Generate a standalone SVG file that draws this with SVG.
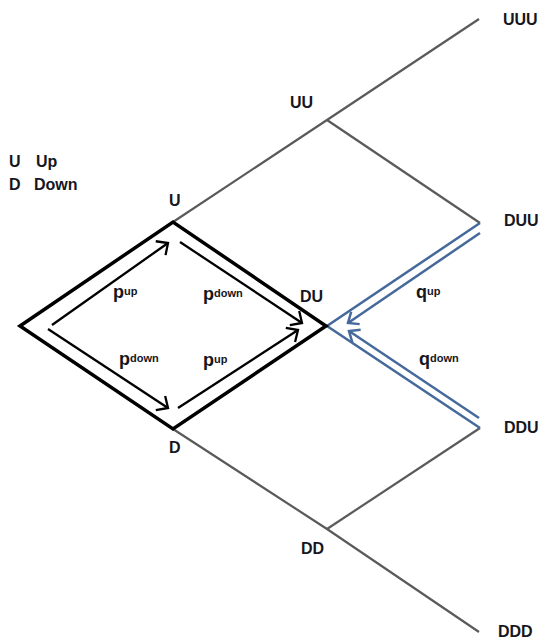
<svg xmlns="http://www.w3.org/2000/svg" width="540" height="639" viewBox="0 0 540 639">
<defs>
<style>
.lbl{font-family:"Liberation Sans",Arial,sans-serif;font-weight:bold;font-size:16px;fill:#161620}
.pq{font-size:18px}
.sup{font-size:11px}
.tree{stroke:#5a5a5a;stroke-width:2.2;fill:none}
.blue{stroke:#45699b;stroke-width:2.5;fill:none}
.diamond{stroke:#000;stroke-width:3.5;fill:none;stroke-linejoin:miter}
.arr{stroke:#000;stroke-width:2.3;fill:none}
</style>
<marker id="ah" markerUnits="userSpaceOnUse" markerWidth="20" markerHeight="20" viewBox="-10 -10 20 20" refX="0" refY="0" orient="auto" overflow="visible">
<path d="M-9,-8.5 L0,0 L-9,8.5" fill="none" stroke="#000" stroke-width="2.3"/>
</marker>
<marker id="ahb" markerUnits="userSpaceOnUse" markerWidth="20" markerHeight="20" viewBox="-10 -10 20 20" refX="0" refY="0" orient="auto" overflow="visible">
<path d="M-9,-7.5 L0,0 L-9,7.5" fill="none" stroke="#45699b" stroke-width="2.5"/>
</marker>
</defs>
<rect width="540" height="639" fill="#fff"/>
<g id="connectors">
<path class="tree" d="M173,222 L327,120 L479,19"/>
<path class="tree" d="M327,120 L480,223"/>
<path class="tree" d="M173,429 L327,529 L479,632"/>
<path class="tree" d="M327,529 L480,428"/>
<path class="blue" d="M480,223 L327,326 L480,428"/>
<path class="diamond" d="M20,326 L173,222 L326,326 L173,429 Z"/>
<line class="arr" x1="52" y1="325" x2="168" y2="243" marker-end="url(#ah)"/>
<line class="arr" x1="180" y1="242" x2="302" y2="323" marker-end="url(#ah)"/>
<line class="arr" x1="48" y1="329" x2="168" y2="408" marker-end="url(#ah)"/>
<line class="arr" x1="178" y1="408" x2="298" y2="330" marker-end="url(#ah)"/>
<line class="blue" x1="480" y1="233" x2="348" y2="323" marker-end="url(#ahb)"/>
<line class="blue" x1="479" y1="418" x2="349" y2="331" marker-end="url(#ahb)"/>
</g>
<g id="legend">
<text class="lbl" x="9" y="167">U</text>
<text class="lbl" x="36" y="167">Up</text>
<text class="lbl" x="9" y="190">D</text>
<text class="lbl" x="34" y="190">Down</text>
</g>
<g id="node-UUU"><text class="lbl" x="503" y="25">UUU</text></g>
<g id="node-UU"><text class="lbl" x="290" y="108">UU</text></g>
<g id="node-U"><text class="lbl" x="169" y="206">U</text></g>
<g id="node-DUU"><text class="lbl" x="504" y="226">DUU</text></g>
<g id="node-DU"><text class="lbl" x="300" y="302">DU</text></g>
<g id="node-DDU"><text class="lbl" x="504" y="433">DDU</text></g>
<g id="node-D"><text class="lbl" x="169" y="453">D</text></g>
<g id="node-DD"><text class="lbl" x="301" y="554">DD</text></g>
<g id="node-DDD"><text class="lbl" x="498" y="637">DDD</text></g>
<g id="probabilities">
<text class="lbl pq" x="113" y="298">p<tspan class="sup" dy="-3">up</tspan></text>
<text class="lbl pq" x="203" y="300">p<tspan class="sup" dy="-3">down</tspan></text>
<text class="lbl pq" x="119" y="365">p<tspan class="sup" dy="-3">down</tspan></text>
<text class="lbl pq" x="203" y="366">p<tspan class="sup" dy="-3">up</tspan></text>
<text class="lbl pq" x="416" y="298">q<tspan class="sup" dy="-3">up</tspan></text>
<text class="lbl pq" x="419" y="365">q<tspan class="sup" dy="-3">down</tspan></text>
</g>
</svg>
